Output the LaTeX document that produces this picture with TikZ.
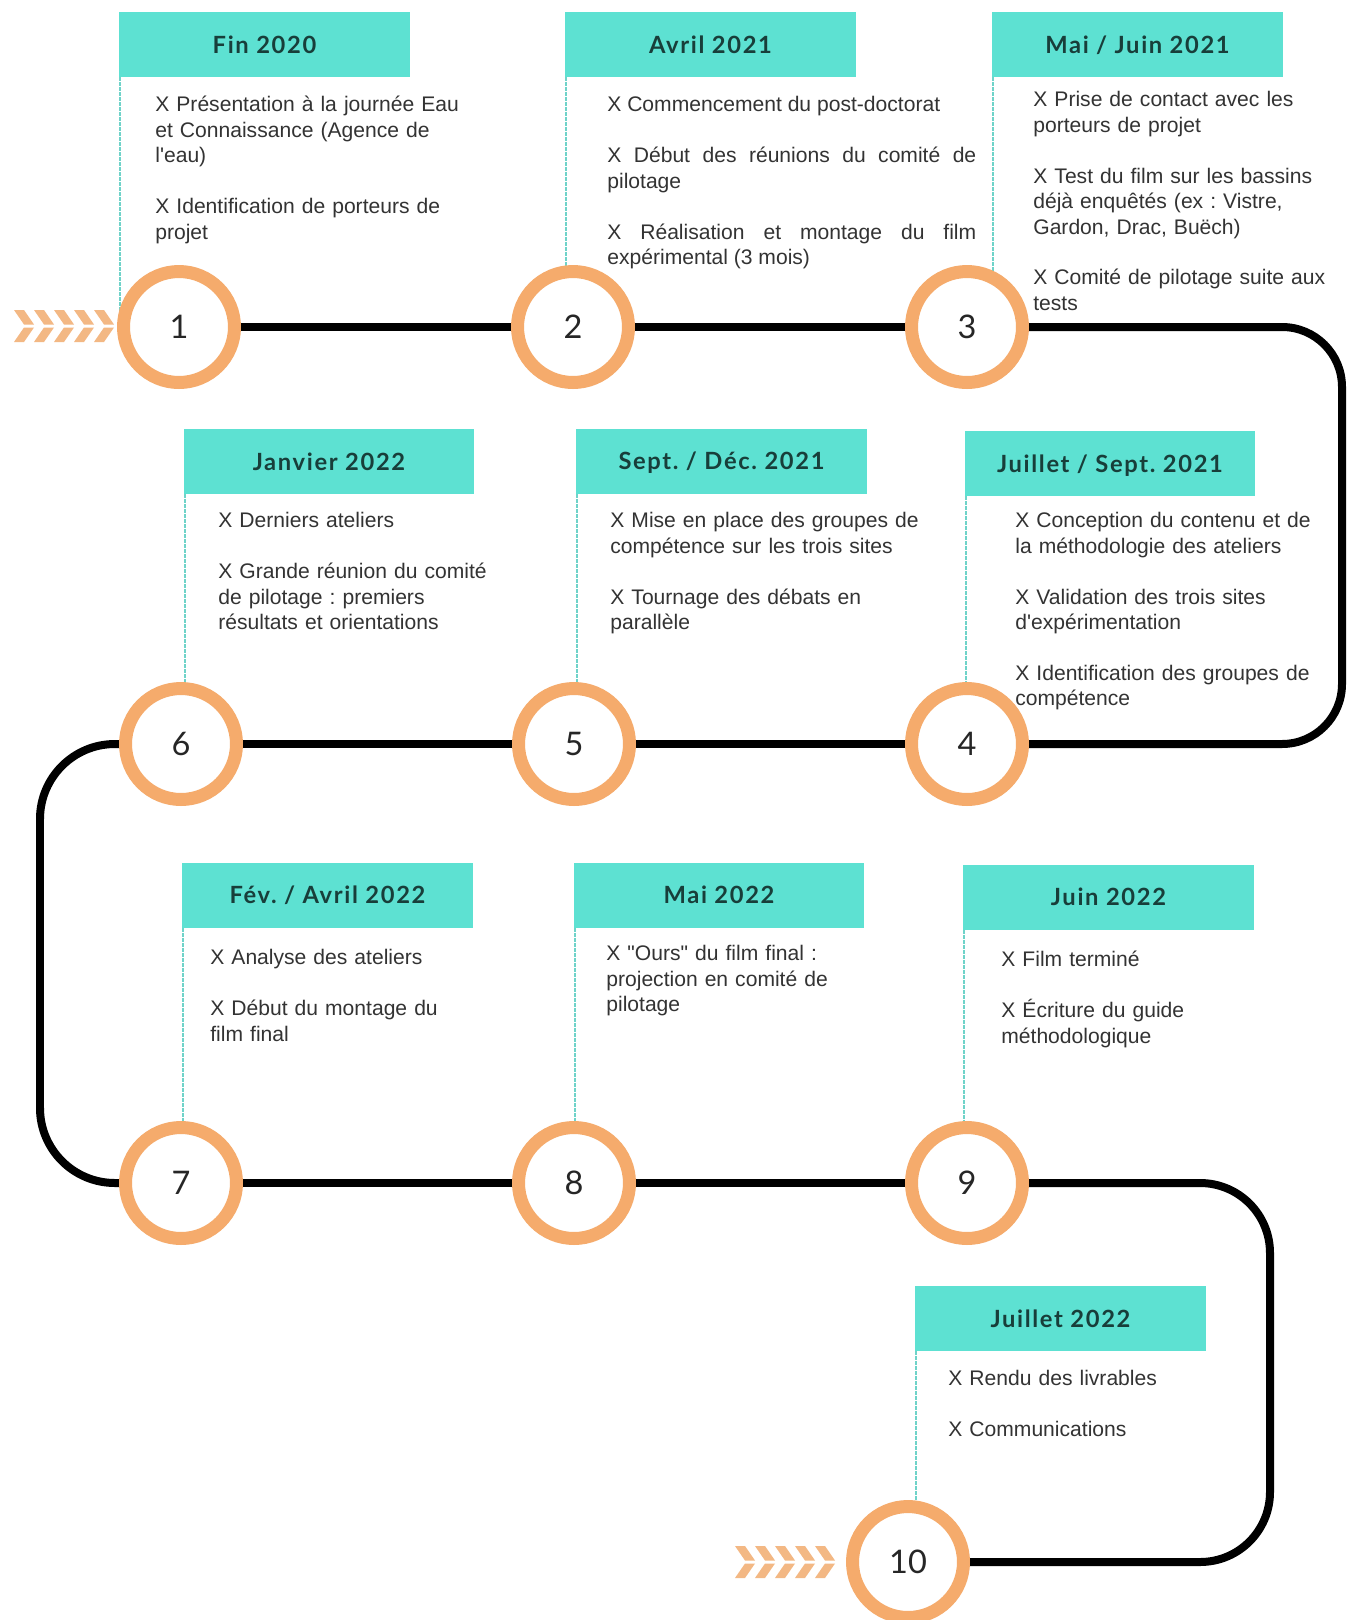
\documentclass[tikz,border=0pt]{standalone}
\usepackage{fontspec}
\setmainfont{Liberation Sans}
\newfontfamily\notefont[Ligatures=ResetAll]{Liberation Sans}
\newfontfamily\numfont{Lato}
\newfontfamily\datefont[LetterSpace=7]{Lato}
\usepackage{tikz}
\usetikzlibrary{positioning,calc,backgrounds}
\definecolor{teal}{HTML}{5DE1D2}
\definecolor{stemteal}{HTML}{6FD3C9}
\definecolor{ring}{HTML}{F5AB6C}
\definecolor{chevron}{HTML}{F3B884}
\definecolor{datetext}{HTML}{183E3A}
\definecolor{bodytext}{HTML}{333333}
\frenchspacing

\begin{document}
\begin{tikzpicture}[x=0.02cm, y=-0.02cm,
  datebox/.style={fill=teal, minimum width=5.82cm, minimum height=1.3cm, inner sep=0pt,
    text height=9.7pt, text depth=0pt,
    font=\datefont\bfseries\fontsize{13.5}{16}\selectfont, text=datetext},
  stage/.style={circle, draw=ring, line width=0.26cm, fill=white, minimum size=2.22cm,
    inner sep=0pt, font=\numfont\fontsize{18.5}{20}\selectfont, text=black!85},
  notes/.style={anchor=north west, inner sep=0pt, text width=8cm, align=left,
    font=\notefont\fontsize{12}{14.5}\selectfont, text=bodytext},
  track/.style={line width=0.16cm, black},
  stem/.style={draw=stemteal, line width=0.04cm, dash pattern=on 0.08cm off 0.02cm},
  chev/.style={fill=chevron}
]
\useasboundingbox (0,0) rectangle (1348,1620);

% date headers
\node[datebox] (h1) at (264.5,44.5) {Fin 2020};
\node[datebox] (h2) at (710.5,44.5) {Avril 2021};
\node[datebox] (h3) at (1137.5,44.5) {Mai / Juin 2021};
\node[datebox] (h4) at (1110,463.5) {Juillet / Sept. 2021};
\node[datebox] (h5) at (721.5,461) {Sept. / Déc. 2021};
\node[datebox] (h6) at (329,461.5) {Janvier 2022};
\node[datebox] (h7) at (327.5,895) {Fév. / Avril 2022};
\node[datebox] (h8) at (719,895) {Mai 2022};
\node[datebox] (h9) at (1108.5,897) {Juin 2022};
\node[datebox] (h10) at (1060.5,1318.5) {Juillet 2022};

% numbered stages
\node[stage] (c1) at (179,327) {1};
\node[stage] (c2) at (573,327) {2};
\node[stage] (c3) at (967,327) {3};
\node[stage] (c4) at (967,744) {4};
\node[stage] (c5) at (574,744) {5};
\node[stage] (c6) at (181,744) {6};
\node[stage] (c7) at (181,1183) {7};
\node[stage] (c8) at (574,1183) {8};
\node[stage] (c9) at (967,1183) {9};
\node[stage] (c10) at (908,1562) {10};

% task lists
\node[notes] (t1) at (155,96) {X Présentation à la journée Eau\\ et Connaissance (Agence de\\ l'eau)\\[14.5pt]
  X Identification de porteurs de\\ projet};
\node[notes, text width=7.38cm, align=justify] (t2) at (607,96) {X Commencement du post-doctorat\\[14.5pt]
  X Début des réunions du comité de\linebreak pilotage\\[14.5pt]
  X Réalisation et montage du film\linebreak expérimental (3 mois)};
\node[notes] (t3) at (1033,91) {X Prise de contact avec les\\ porteurs de projet\\[14.5pt]
  X Test du film sur les bassins\\ déjà enquêtés (ex : Vistre,\\ Gardon, Drac, Buëch)\\[14.5pt]
  X Comité de pilotage suite aux\\ tests};
\node[notes] (t4) at (1015,512) {X Conception du contenu et de\\ la méthodologie des ateliers\\[14.5pt]
  X Validation des trois sites\\ d'expérimentation\\[14.5pt]
  X Identification des groupes de\\ compétence};
\node[notes] (t5) at (610,512) {X Mise en place des groupes de\\ compétence sur les trois sites\\[14.5pt]
  X Tournage des débats en\\ parallèle};
\node[notes] (t6) at (218,512) {X Derniers ateliers\\[14.5pt]
  X Grande réunion du comité\\ de pilotage : premiers\\ résultats et orientations};
\node[notes] (t7) at (210,949) {X Analyse des ateliers\\[14.5pt]
  X Début du montage du\\ film final};
\node[notes] (t8) at (606,945) {X "Ours" du film final :\\ projection en comité de\\ pilotage};
\node[notes] (t9) at (1001,951) {X Film terminé\\[14.5pt]
  X Écriture du guide\\ méthodologique};
\node[notes] (t10) at (948,1370) {X Rendu des livrables\\[14.5pt]
  X Communications};

% loop corners of the track
\coordinate (e1) at (1342,327);
\coordinate (e2) at (1342,744);
\coordinate (w1) at (40,744);
\coordinate (w2) at (40,1183);
\coordinate (s1) at (1270,1183);
\coordinate (s2) at (1270,1562);

\begin{scope}[on background layer]
  \fill[white] (0,0) rectangle (1348,1620);
  \draw[track] (c1) -- (c2);
  \draw[track] (c2) -- (c3);
  \draw[track, rounded corners=1.2cm] (c3.east) -- (e1) -- (e2) -- (c4.east);
  \draw[track] (c4) -- (c5);
  \draw[track] (c5) -- (c6);
  \draw[track, rounded corners=1.5cm] (c6.west) -- (w1) -- (w2) -- (c7.west);
  \draw[track] (c7) -- (c8);
  \draw[track] (c8) -- (c9);
  \draw[track, rounded corners=1.4cm] (c9.east) -- (s1) -- (s2) -- (c10.east);
  % thin stems from each date down to its stage
  \foreach \n in {1,...,10}
    \draw[stem] ([xshift=0.03cm]h\n.south west) -- ([xshift=0.03cm]h\n.south west |- c\n.center);
\end{scope}

% chevrons leading in and out
\foreach \k in {0,...,4}
  \fill[chev, shift={(14+20*\k,326)}] (0,-16) -- (10,-16) -- (20,-1.5) -- (10,-1.5) -- cycle
    (10,1.5) -- (20,1.5) -- (10,16) -- (0,16) -- cycle;
\foreach \k in {0,...,4}
  \fill[chev, shift={(735+20*\k,1562)}] (0,-16) -- (10,-16) -- (20,-1.5) -- (10,-1.5) -- cycle
    (10,1.5) -- (20,1.5) -- (10,16) -- (0,16) -- cycle;
\end{tikzpicture}
\end{document}
